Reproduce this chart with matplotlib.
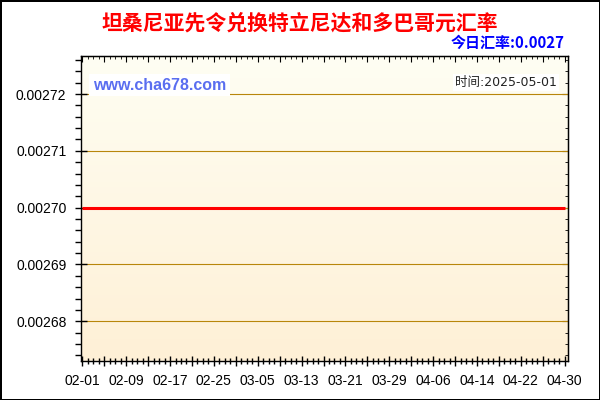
import numpy as np
import pandas as pd
import matplotlib
matplotlib.use("Agg")
import matplotlib.pyplot as plt
from matplotlib.ticker import MultipleLocator, FuncFormatter
from matplotlib.colors import LinearSegmentedColormap

title = "坦桑尼亚先令兑换特立尼达和多巴哥元汇率"
today_label = "今日汇率:0.0027"
time_label = "时间:2025-05-01"
site = "www.cha678.com"

dates = pd.date_range("2025-02-01", "2025-04-30", freq="D")
rates = [
    0.0027, 0.0027, 0.0027, 0.0027, 0.0027, 0.0027, 0.0027, 0.0027, 0.0027, 0.0027,
    0.0027, 0.0027, 0.0027, 0.0027, 0.0027, 0.0027, 0.0027, 0.0027, 0.0027, 0.0027,
    0.0027, 0.0027, 0.0027, 0.0027, 0.0027, 0.0027, 0.0027, 0.0027, 0.0027, 0.0027,
    0.0027, 0.0027, 0.0027, 0.0027, 0.0027, 0.0027, 0.0027, 0.0027, 0.0027, 0.0027,
    0.0027, 0.0027, 0.0027, 0.0027, 0.0027, 0.0027, 0.0027, 0.0027, 0.0027, 0.0027,
    0.0027, 0.0027, 0.0027, 0.0027, 0.0027, 0.0027, 0.0027, 0.0027, 0.0027, 0.0027,
    0.0027, 0.0027, 0.0027, 0.0027, 0.0027, 0.0027, 0.0027, 0.0027, 0.0027, 0.0027,
    0.0027, 0.0027, 0.0027, 0.0027, 0.0027, 0.0027, 0.0027, 0.0027, 0.0027, 0.0027,
    0.0027, 0.0027, 0.0027, 0.0027, 0.0027, 0.0027, 0.0027, 0.0027, 0.0027,
]
y_ticks = [0.00268, 0.00269, 0.00270, 0.00271, 0.00272]

x = np.arange(len(dates))
ymin, ymax = 0.002673, 0.0027267
xmin, xmax = -0.24, 88.6

fig = plt.figure(figsize=(6, 4), dpi=100)
fig.patch.set_facecolor("white")
fig.patch.set_edgecolor("black")
fig.patch.set_linewidth(2)
ax = fig.add_axes([81 / 600, 39 / 400, 487 / 600, 305 / 400])

# background gradient
cmap = LinearSegmentedColormap.from_list("bg", ["#fef0d6", "#fffef3"])
ax.imshow(np.linspace(0, 1, 256).reshape(-1, 1), cmap=cmap, aspect="auto",
          extent=[xmin, xmax, ymin, ymax], origin="lower", zorder=0)

for yt in y_ticks:
    ax.axhline(yt, color="#b8860b", lw=0.8, zorder=1)
ax.plot(x, rates, color="#ff0000", lw=2.2, zorder=3, solid_capstyle="butt")

ax.set_xlim(xmin, xmax)
ax.set_ylim(ymin, ymax)

labels = [d.strftime("%m-%d") for d in dates]
ax.xaxis.set_major_locator(MultipleLocator(4))
ax.xaxis.set_minor_locator(MultipleLocator(1))
ax.xaxis.set_major_formatter(FuncFormatter(
    lambda v, p: labels[int(round(v))] if 0 <= round(v) < len(labels) and int(round(v)) % 8 == 0 else ""))
ax.yaxis.set_major_locator(MultipleLocator(0.00001))
ax.yaxis.set_minor_locator(MultipleLocator(0.000002))
ax.yaxis.set_major_formatter(FuncFormatter(lambda v, p: "%.5f" % v))

ax.tick_params(axis="x", which="major", direction="inout", length=7, width=1, pad=6,
               labelsize=10, labelfontfamily="Liberation Sans")
ax.tick_params(axis="x", which="minor", direction="inout", length=4, width=1)
ax.tick_params(axis="y", which="major", direction="inout", length=9, width=1, pad=6,
               labelsize=10, labelfontfamily="Liberation Sans")
ax.tick_params(axis="y", which="minor", direction="out", length=4, width=1)

top = ax.secondary_xaxis("top")
top.xaxis.set_major_locator(MultipleLocator(4))
top.xaxis.set_minor_locator(MultipleLocator(1))
top.tick_params(which="major", direction="in", length=4, labeltop=False)
top.tick_params(which="minor", direction="in", length=2.5)
right = ax.secondary_yaxis("right")
right.yaxis.set_major_locator(MultipleLocator(0.00001))
right.yaxis.set_minor_locator(MultipleLocator(0.000002))
right.tick_params(which="major", direction="in", length=4, labelright=False)
right.tick_params(which="minor", direction="in", length=2.5)

for s in ax.spines.values():
    s.set_color("black")
    s.set_linewidth(1)

fig.text(0.5, 1 - 23 / 400, title, color="#ff0000", fontsize=15, fontweight="bold",
         family=["Noto Sans CJK SC", "DejaVu Sans"], ha="center", va="center")
fig.text(565 / 600, 1 - 43 / 400, today_label, color="#0000ff", fontsize=10.8, fontweight="bold",
         family=["Noto Sans CJK SC", "DejaVu Sans"], ha="right", va="center")
fig.text(93 / 600, 1 - 85 / 400, site, color="#5a6ef0", fontsize=11.5, fontweight="bold",
         family="Liberation Sans", ha="left", va="center", zorder=5,
         bbox=dict(facecolor="white", edgecolor="none", pad=2.5))
fig.text(557 / 600, 1 - 82.5 / 400, time_label, color="#222222", fontsize=9,
         family=["DejaVu Sans", "Noto Sans CJK SC"], ha="right", va="center", zorder=5,
         bbox=dict(facecolor="white", edgecolor="none", pad=1.5))

fig.savefig("out.png", dpi=100)
